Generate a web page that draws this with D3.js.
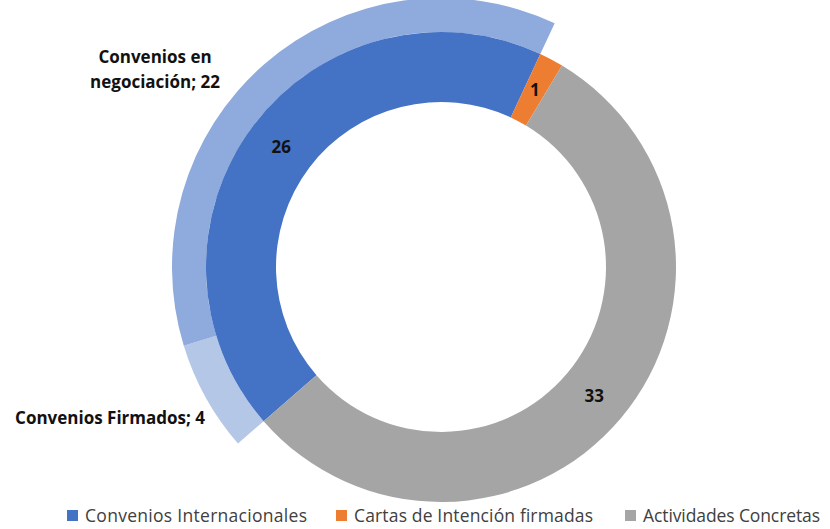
<!DOCTYPE html>
<html>
<head>
<meta charset="utf-8">
<script src="https://cdn.jsdelivr.net/npm/d3@7"></script>
<style>
  html, body { margin: 0; padding: 0; background: #fff; }
  svg { display: block; }
</style>
</head>
<body>
<svg id="chart" width="830" height="529"></svg>
<script>
// ---- data ----
const categories = ["Convenios Internacionales", "Cartas de Intención firmadas", "Actividades Concretas"];
const values = [26, 1, 33];
const subCategories = ["Convenios Firmados", "Convenios en negociación"];
const subValues = [4, 22];

// ---- styles ----
const colors = ["#4472C4", "#ED7D31", "#A5A5A5"];
const subColors = ["#B4C7E7", "#8FAADC"];
const cx = 441, cy = 267;
const rIn = 165, rMid = 235, rOut = 269;
const deg = Math.PI / 180;
const startA = -131 * deg;

const svg = d3.select("#chart");
const g = svg.append("g").attr("transform", `translate(${cx},${cy})`);

const pie = d3.pie().sort(null).startAngle(startA).endAngle(startA + 2 * Math.PI);
const inner = pie(values);
const arcInner = d3.arc().innerRadius(rIn).outerRadius(rMid);

// outer ring: sub-breakdown of first category, rest of the circle hidden
const total = d3.sum(values);
const outerData = subValues.concat([total - d3.sum(subValues)]);
const outer = pie(outerData).slice(0, subValues.length);
const arcOuter = d3.arc().innerRadius(rMid).outerRadius(rOut);

g.selectAll("path.outer").data(outer).enter().append("path")
  .attr("class", "outer")
  .attr("d", arcOuter)
  .attr("fill", (d, i) => subColors[i]);

g.selectAll("path.inner").data(inner).enter().append("path")
  .attr("class", "inner")
  .attr("d", arcInner)
  .attr("fill", (d, i) => colors[i]);

const labelFont = t => t.style("font-family", "'Open Sans', sans-serif")
  .style("font-weight", "bold").style("font-size", "17px").attr("fill", "#111");

// value labels in inner ring
g.selectAll("text.val").data(inner).enter().append("text")
  .attr("class", "val")
  .attr("transform", d => `translate(${arcInner.centroid(d)})`)
  .attr("text-anchor", "middle")
  .attr("dy", "0.35em")
  .call(labelFont)
  .text(d => d.data);

// negotiation label: two lines, centered
const neg = outer[1];
const negPos = [cx - 286, cy - 195];
const tNeg = svg.append("text").attr("text-anchor", "middle").call(labelFont);
tNeg.append("tspan").attr("x", negPos[0]).attr("y", negPos[1] - 9).text("Convenios en");
tNeg.append("tspan").attr("x", negPos[0]).attr("y", negPos[1] + 16)
  .text(`negociación; ${neg.data}`);

const firm = outer[0];
svg.append("text").attr("text-anchor", "end")
  .attr("x", cx - 236).attr("y", cy + 157)
  .call(labelFont)
  .text(`${subCategories[0]}; ${firm.data}`);

// legend
const legendX = [67, 336, 625];
const legendLen = [222, 239, 177];
const legend = svg.append("g");
categories.forEach((c, i) => {
  const lg = legend.append("g").attr("transform", `translate(${legendX[i]},510)`);
  lg.append("rect").attr("width", 11).attr("height", 11).attr("fill", colors[i]);
  lg.append("text").attr("x", 18).attr("y", 12)
    .style("font-family", "'Open Sans', sans-serif")
    .style("font-size", "17.5px")
    .attr("fill", "#404040")
    .attr("textLength", legendLen[i])
    .attr("lengthAdjust", "spacing")
    .text(c);
});
</script>
</body>
</html>
